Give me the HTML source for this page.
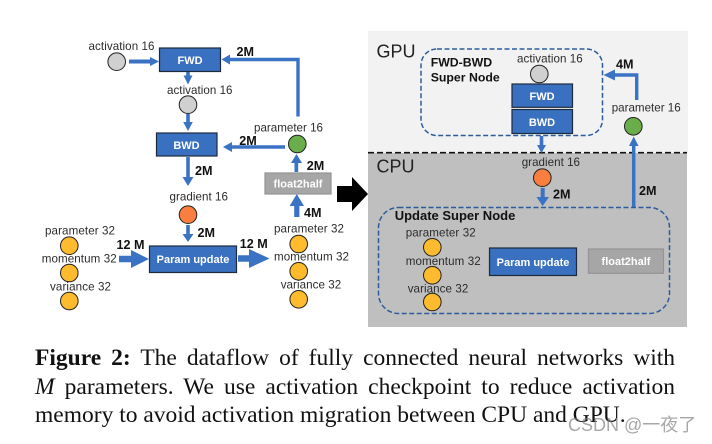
<!DOCTYPE html>
<html><head><meta charset="utf-8">
<style>
html,body{margin:0;padding:0;background:#fff}
#w{position:relative;width:712px;height:444px;overflow:hidden;background:#fff}
svg{position:absolute;left:0;top:0}
svg text{font-family:"Liberation Sans",sans-serif}
.l{font-size:11.6px;fill:#2b2b2b}
.b{font-size:12.6px;font-weight:bold;fill:#111}
.w{font-size:11px;font-weight:bold;fill:#fff;text-anchor:middle}
.g{font-size:18px;fill:#222}
.box{fill:#3a70c0;stroke:#1d2a3c;stroke-width:1.2}
.f{fill:#a6a6a6;stroke:#949494;stroke-width:1.2}
.a{fill:#3a72c4}
.c{stroke:#222;stroke-width:1}
.y{fill:#fdbb2d}.gr{fill:#d0d0d0}.o{fill:#f97e3f}.n{fill:#6aae4c}
.s{fill:none;stroke:#3a72c4}
.d{fill:none;stroke:#2c5c9c;stroke-width:1.5;stroke-dasharray:5 2.5}
.t{position:absolute;left:35px;width:640px;font:23.5px/28px "Liberation Serif",serif;color:#111;white-space:nowrap}
.j{text-align:justify;text-align-last:justify;white-space:normal}
</style></head><body><div id="w">
<svg width="712" height="444" viewBox="0 0 712 444">
<!-- panels -->
<rect x="368" y="31" width="320" height="122" fill="#f2f2f2"/>
<rect x="368" y="153" width="319" height="174" fill="#bfbfbf"/>
<line x1="368" y1="152.7" x2="687" y2="152.7" stroke="#111" stroke-width="1.6" stroke-dasharray="6 3"/>
<text class="g" x="376.5" y="57.5">GPU</text>
<text class="g" x="376.5" y="172.5">CPU</text>

<!-- left: connectors -->
<polygon class="a" points="129,59.5 150,59.5 150,57 159,61.5 150,66 150,63.5 129,63.5"/>
<polygon class="a" points="186.2,72 189.8,72 189.8,75.5 192.5,75.5 188,84.5 183.5,75.5 186.2,75.5"/>
<polygon class="a" points="186.2,114 189.8,114 189.8,122 192.8,122 188,131 183.2,122 186.2,122"/>
<polygon class="a" points="186.2,157 189.8,157 189.8,177 193.5,177 188,186 182.5,177 186.2,177"/>
<polygon class="a" points="186.2,225 189.8,225 189.8,234 193.5,234 188,242 182.5,234 186.2,234"/>
<polygon class="a" points="119,255.7 131,255.7 131,250 149,259 131,268 131,262.3 119,262.3"/>
<polygon class="a" points="238,255.2 249,255.2 249,249 269.5,258.5 249,268 249,261.8 238,261.8"/>
<polygon class="a" points="294.2,217 299.4,217 299.4,206 304,206 296.8,194 289.6,206 294.2,206"/>
<polygon class="a" points="294.5,172 298.2,172 298.2,163 302,163 296.5,154 291,163 294.5,163"/>
<polygon class="a" points="285,145.3 232,145.3 232,142 223,147 232,152 232,148.7 285,148.7"/>
<polyline class="s" stroke-width="3.4" points="298,116.5 298,59.5 228,59.5"/>
<polygon class="a" points="221.5,59.5 230,54.5 230,64.5"/>

<!-- left: boxes -->
<rect class="box" x="159.5" y="48" width="61" height="23.5"/>
<text class="w" x="190" y="64">FWD</text>
<rect class="box" x="156.5" y="133" width="60.5" height="23"/>
<text class="w" x="186.5" y="149">BWD</text>
<rect class="box" x="149.5" y="246" width="87" height="26.5"/>
<text class="w" x="193" y="263">Param update</text>
<rect class="f" x="265" y="173" width="66" height="21"/>
<text class="w" x="298" y="187.5">float2half</text>
<polygon fill="#000" points="337,186 352,186 352,177 368,194 352,211 352,202 337,202"/>

<!-- left: circles -->
<circle class="c gr" cx="116.7" cy="61.7" r="8.8"/>
<circle class="c gr" cx="188" cy="104.7" r="8.8"/>
<circle class="c n" cx="297.3" cy="144" r="8.8"/>
<circle class="c o" cx="188" cy="214.7" r="8.8"/>
<circle class="c y" cx="69.3" cy="245.7" r="8.8"/>
<circle class="c y" cx="69.3" cy="273" r="8.8"/>
<circle class="c y" cx="69.3" cy="301" r="8.8"/>
<circle class="c y" cx="298.7" cy="244" r="8.8"/>
<circle class="c y" cx="298.7" cy="271.3" r="8.8"/>
<circle class="c y" cx="298.7" cy="299.3" r="8.8"/>

<!-- left: labels -->
<text class="l" x="88.5" y="50" textLength="66">activation 16</text>
<text class="l" x="167" y="94" textLength="65.5">activation 16</text>
<text class="l" x="254" y="131.5" textLength="69">parameter 16</text>
<text class="l" x="169.5" y="200.5" textLength="58.5">gradient 16</text>
<text class="l" x="45" y="234.5" textLength="70">parameter 32</text>
<text class="l" x="41.7" y="262.5" textLength="75">momentum 32</text>
<text class="l" x="50" y="290.5" textLength="61">variance 32</text>
<text class="l" x="274" y="232.5" textLength="70">parameter 32</text>
<text class="l" x="274" y="260.5" textLength="75">momentum 32</text>
<text class="l" x="280.7" y="288.5" textLength="60.5">variance 32</text>
<text class="b" x="236.5" y="56">2M</text>
<text class="b" x="239.3" y="145">2M</text>
<text class="b" x="195" y="175">2M</text>
<text class="b" x="306.7" y="170">2M</text>
<text class="b" x="197.5" y="237">2M</text>
<text class="b" x="304" y="217">4M</text>
<text class="b" x="116.5" y="249">12 M</text>
<text class="b" x="239.7" y="248">12 M</text>

<!-- right GPU -->
<rect class="d" x="421" y="49" width="181.5" height="86.5" rx="16"/>
<text x="430.7" y="66.7" font-size="12.3" font-weight="bold" fill="#111">FWD-BWD</text>
<text x="430.7" y="81.7" font-size="12.3" font-weight="bold" fill="#111">Super Node</text>
<text class="l" x="517" y="62.7" textLength="65.7">activation 16</text>
<circle class="c gr" cx="539.3" cy="74" r="8.8"/>
<rect class="box" x="512" y="84" width="60.5" height="23.3"/>
<text class="w" x="542" y="100">FWD</text>
<rect class="box" x="512" y="109.5" width="60.5" height="24"/>
<text class="w" x="542" y="126">BWD</text>
<polygon class="a" points="539.7,136 543.3,136 543.3,145 546,145 541.5,153 537,145 539.7,145"/>
<text class="l" x="521.7" y="166" textLength="58.3">gradient 16</text>
<circle class="c o" cx="542.3" cy="177.7" r="8.8"/>
<text class="l" x="611.7" y="111.7" textLength="69">parameter 16</text>
<circle class="c n" cx="633.3" cy="126.3" r="8.8"/>
<polyline class="s" stroke-width="3.4" points="636.7,100 636.7,75 610,75"/>
<polygon class="a" points="603.5,75 615,69.5 615,80.5"/>
<text class="b" x="616" y="68.5">4M</text>
<polyline class="s" stroke-width="3.5" points="633.7,207.5 633.7,143"/>
<polygon class="a" points="633.7,136.5 638.5,146 629,146"/>
<text class="b" x="639" y="195">2M</text>

<!-- right CPU -->
<polygon class="a" points="540.7,188 544.7,188 544.7,197 549,197 542.7,206 536.5,197 540.7,197"/>
<text class="b" x="553" y="198.5">2M</text>
<rect class="d" x="378.5" y="207.5" width="291" height="106" rx="20"/>
<text x="394.7" y="220" font-size="13" font-weight="bold" fill="#111">Update Super Node</text>
<text class="l" x="405.7" y="236.7" textLength="70">parameter 32</text>
<circle class="c y" cx="432.3" cy="247.3" r="8.8"/>
<text class="l" x="405.7" y="265" textLength="75">momentum 32</text>
<circle class="c y" cx="432.3" cy="275.3" r="8.8"/>
<text class="l" x="407.7" y="292.7" textLength="60.6">variance 32</text>
<circle class="c y" cx="432.3" cy="302" r="8.8"/>
<rect class="box" x="489.5" y="248" width="87" height="27.5"/>
<text class="w" x="533" y="266">Param update</text>
<rect class="f" x="588.5" y="249" width="75" height="24.3"/>
<text class="w" x="626" y="265">float2half</text>
</svg>

<div class="t j" style="top:344px"><b>Figure 2:</b> The dataflow of fully connected neural networks with</div>
<div class="t j" style="top:373px"><i>M</i> parameters. We use activation checkpoint to reduce activation</div>
<div class="t" style="top:401px">memory to avoid activation migration between CPU and GPU.</div>
<div style="position:absolute;left:568px;top:414px;font:18px/22px 'Liberation Sans','Noto Sans CJK SC',sans-serif;color:rgba(130,130,130,.7);white-space:nowrap">CSDN @一夜了</div>
</div></body></html>
